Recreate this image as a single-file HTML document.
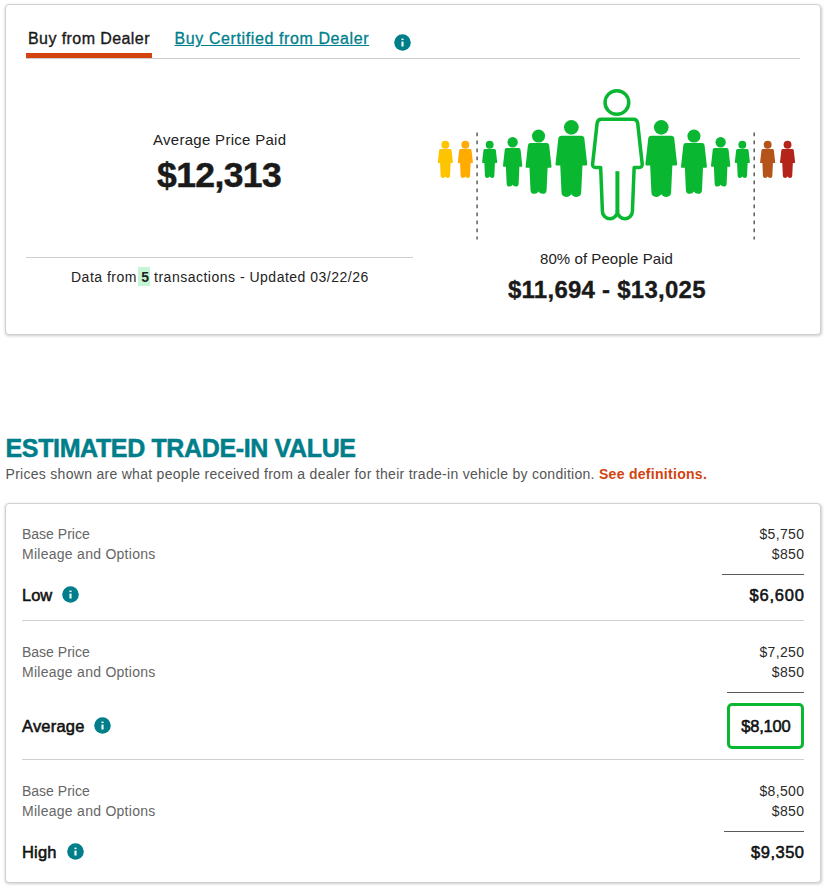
<!DOCTYPE html>
<html lang="en">
<head>
<meta charset="utf-8">
<title>Price Advisor</title>
<style>
*{box-sizing:border-box;margin:0;padding:0}
html,body{width:828px;height:889px;background:#fff;overflow:hidden}
body{position:relative;font-family:"Liberation Sans",sans-serif;color:#1a1a1a}
.card{position:absolute;left:5px;width:816px;border:1px solid #d0d0d0;border-radius:4px;background:#fff;box-shadow:.6px 1px 3px rgba(0,0,0,.2)}
.t{position:absolute;white-space:nowrap;line-height:1}
.hl{position:absolute;height:1px;background:#cfcfcf}
.rule{position:absolute;height:1px;background:#5a5a5a}
.lab{font-size:14px;color:#666;left:22px}
.val{font-size:14px;color:#2a2a2a;right:23.7px;letter-spacing:.35px}
.tot{font-size:16.5px;color:#111;right:24px;-webkit-text-stroke:.55px #111}
.name{font-size:16.5px;color:#111;left:22px;-webkit-text-stroke:.55px #111}
.info{position:absolute;width:17px;height:17px}
</style>
</head>
<body>

<!-- ===== top card ===== -->
<div class="card" id="card1" style="top:4px;height:331px"></div>

<div class="t" id="tab1" style="left:28px;top:31.3px;font-size:16px;color:#1a1a1a;letter-spacing:.42px;-webkit-text-stroke:.35px #1a1a1a">Buy from Dealer</div>
<div class="hl" style="left:26px;top:58px;width:774px"></div>
<div style="position:absolute;left:26px;top:53px;width:126px;height:5px;background:#d2430f"></div>
<div class="t" id="tab2" style="left:174.5px;top:31.3px;font-size:16px;color:#00808c;text-decoration:underline;letter-spacing:.6px;-webkit-text-stroke:.3px #00808c">Buy Certified from Dealer</div>
<svg class="info" style="left:393.5px;top:33.5px" viewBox="0 0 17 17"><circle cx="8.5" cy="8.5" r="8.3" fill="#007f8a"/><rect x="7.45" y="4.6" width="2.1" height="1.5" fill="#fff"/><rect x="7.45" y="7.6" width="2.1" height="4.9" fill="#fff"/></svg>

<div class="t" id="avgl" style="left:153px;top:132px;font-size:15px;color:#222;letter-spacing:.29px">Average Price Paid</div>
<div class="t" id="avgp" style="left:157px;top:157.6px;font-size:35.5px;font-weight:bold;color:#1a1a1a;letter-spacing:-.6px;-webkit-text-stroke:.5px #1a1a1a">$12,313</div>

<div class="hl" style="left:26px;top:257px;width:387px"></div>
<div style="position:absolute;left:138px;top:267px;width:12px;height:19px;background:#c5f5d4"></div>
<div class="t" id="data" style="left:71px;top:270.1px;font-size:14px;color:#222;letter-spacing:.5px">Data from <b>5</b> transactions - Updated 03/22/26</div>

<div class="t" id="pct" style="left:540px;top:251.3px;font-size:15px;color:#222;letter-spacing:.07px">80% of People Paid</div>
<div class="t" id="rng" style="left:508px;top:277.9px;font-size:24px;font-weight:bold;color:#1a1a1a;letter-spacing:.25px;-webkit-text-stroke:.35px #1a1a1a">$11,694 - $13,025</div>

<!-- people pictogram -->
<svg id="people" style="position:absolute;left:0;top:0" width="828" height="260" viewBox="0 0 828 260">
<!--PEOPLE-->
<g fill="#ffc400"><circle cx="445.35" cy="144.75" r="3.95"/><path d="M440.67,149.00 L450.03,149.00 Q451.39,149.00 451.54,150.33 L452.90,162.34 Q452.98,163.08 452.30,163.08 L450.63,163.08 L450.03,175.97 Q449.88,177.90 447.77,177.90 Q445.95,177.90 445.35,176.57 Q444.75,177.90 442.93,177.90 Q440.82,177.90 440.67,175.97 L440.06,163.08 L438.40,163.08 Q437.72,163.08 437.80,162.34 L439.16,150.33 Q439.31,149.00 440.67,149.00 Z"/></g>
<g fill="#ffab00"><circle cx="465.35" cy="144.75" r="3.95"/><path d="M460.67,149.00 L470.03,149.00 Q471.39,149.00 471.54,150.33 L472.90,162.34 Q472.98,163.08 472.30,163.08 L470.63,163.08 L470.03,175.97 Q469.88,177.90 467.77,177.90 Q465.95,177.90 465.35,176.57 Q464.75,177.90 462.93,177.90 Q460.82,177.90 460.67,175.97 L460.06,163.08 L458.40,163.08 Q457.72,163.08 457.80,162.34 L459.16,150.33 Q459.31,149.00 460.67,149.00 Z"/></g>
<g fill="#09b830"><circle cx="489.65" cy="144.75" r="3.95"/><path d="M484.97,149.00 L494.33,149.00 Q495.69,149.00 495.84,150.33 L497.20,162.34 Q497.28,163.08 496.60,163.08 L494.94,163.08 L494.33,175.97 Q494.18,177.90 492.07,177.90 Q490.25,177.90 489.65,176.57 Q489.05,177.90 487.23,177.90 Q485.12,177.90 484.97,175.97 L484.37,163.08 L482.70,163.08 Q482.02,163.08 482.10,162.34 L483.46,150.33 Q483.61,149.00 484.97,149.00 Z"/></g>
<g fill="#09b830"><circle cx="512.65" cy="142.25" r="5.15"/><path d="M506.67,148.00 L518.63,148.00 Q520.37,148.00 520.56,149.78 L522.30,165.82 Q522.40,166.81 521.53,166.81 L519.40,166.81 L518.63,184.03 Q518.44,186.60 515.74,186.60 Q513.42,186.60 512.65,184.82 Q511.88,186.60 509.56,186.60 Q506.86,186.60 506.67,184.03 L505.89,166.81 L503.77,166.81 Q502.90,166.81 503.00,165.82 L504.74,149.78 Q504.93,148.00 506.67,148.00 Z"/></g>
<g fill="#09b830"><circle cx="538.55" cy="136.05" r="6.55"/><path d="M530.52,143.00 L546.58,143.00 Q548.91,143.00 549.17,145.34 L551.50,166.45 Q551.63,167.75 550.46,167.75 L547.62,167.75 L546.58,190.41 Q546.32,193.80 542.69,193.80 Q539.59,193.80 538.55,191.46 Q537.51,193.80 534.41,193.80 Q530.78,193.80 530.52,190.41 L529.49,167.75 L526.64,167.75 Q525.47,167.75 525.60,166.45 L527.93,145.34 Q528.19,143.00 530.52,143.00 Z"/></g>
<g fill="#09b830"><circle cx="571.35" cy="127.35" r="7.35"/><path d="M561.52,135.70 L581.18,135.70 Q584.03,135.70 584.35,138.52 L587.20,163.95 Q587.36,165.52 585.93,165.52 L582.45,165.52 L581.18,192.82 Q580.86,196.90 576.42,196.90 Q572.62,196.90 571.35,194.08 Q570.08,196.90 566.28,196.90 Q561.84,196.90 561.52,192.82 L560.25,165.52 L556.77,165.52 Q555.34,165.52 555.50,163.95 L558.35,138.52 Q558.67,135.70 561.52,135.70 Z"/></g>
<g fill="#09b830"><circle cx="661.25" cy="127.35" r="7.35"/><path d="M651.42,135.70 L671.08,135.70 Q673.93,135.70 674.25,138.52 L677.10,163.95 Q677.26,165.52 675.83,165.52 L672.35,165.52 L671.08,192.82 Q670.76,196.90 666.32,196.90 Q662.52,196.90 661.25,194.08 Q659.98,196.90 656.18,196.90 Q651.74,196.90 651.42,192.82 L650.15,165.52 L646.67,165.52 Q645.24,165.52 645.40,163.95 L648.25,138.52 Q648.57,135.70 651.42,135.70 Z"/></g>
<g fill="#09b830"><circle cx="693.95" cy="136.05" r="6.55"/><path d="M685.92,143.00 L701.98,143.00 Q704.31,143.00 704.57,145.34 L706.90,166.45 Q707.03,167.75 705.86,167.75 L703.01,167.75 L701.98,190.41 Q701.72,193.80 698.09,193.80 Q694.99,193.80 693.95,191.46 Q692.91,193.80 689.81,193.80 Q686.18,193.80 685.92,190.41 L684.88,167.75 L682.04,167.75 Q680.87,167.75 681.00,166.45 L683.33,145.34 Q683.59,143.00 685.92,143.00 Z"/></g>
<g fill="#09b830"><circle cx="720.65" cy="142.25" r="5.15"/><path d="M714.67,148.00 L726.63,148.00 Q728.37,148.00 728.56,149.78 L730.30,165.82 Q730.40,166.81 729.53,166.81 L727.40,166.81 L726.63,184.03 Q726.44,186.60 723.74,186.60 Q721.42,186.60 720.65,184.82 Q719.88,186.60 717.56,186.60 Q714.86,186.60 714.67,184.03 L713.89,166.81 L711.77,166.81 Q710.90,166.81 711.00,165.82 L712.74,149.78 Q712.93,148.00 714.67,148.00 Z"/></g>
<g fill="#09b830"><circle cx="742.35" cy="144.75" r="3.95"/><path d="M737.67,149.00 L747.03,149.00 Q748.39,149.00 748.54,150.33 L749.90,162.34 Q749.98,163.08 749.30,163.08 L747.63,163.08 L747.03,175.97 Q746.88,177.90 744.77,177.90 Q742.95,177.90 742.35,176.57 Q741.75,177.90 739.93,177.90 Q737.82,177.90 737.67,175.97 L737.06,163.08 L735.40,163.08 Q734.72,163.08 734.80,162.34 L736.16,150.33 Q736.31,149.00 737.67,149.00 Z"/></g>
<g fill="#b5541a"><circle cx="767.65" cy="144.75" r="3.95"/><path d="M762.97,149.00 L772.33,149.00 Q773.69,149.00 773.84,150.33 L775.20,162.34 Q775.28,163.08 774.60,163.08 L772.94,163.08 L772.33,175.97 Q772.18,177.90 770.07,177.90 Q768.25,177.90 767.65,176.57 Q767.05,177.90 765.23,177.90 Q763.12,177.90 762.97,175.97 L762.37,163.08 L760.70,163.08 Q760.02,163.08 760.10,162.34 L761.46,150.33 Q761.61,149.00 762.97,149.00 Z"/></g>
<g fill="#b3251b"><circle cx="787.55" cy="144.75" r="3.95"/><path d="M782.87,149.00 L792.23,149.00 Q793.59,149.00 793.74,150.33 L795.10,162.34 Q795.18,163.08 794.50,163.08 L792.84,163.08 L792.23,175.97 Q792.08,177.90 789.97,177.90 Q788.15,177.90 787.55,176.57 Q786.95,177.90 785.13,177.90 Q783.02,177.90 782.87,175.97 L782.26,163.08 L780.60,163.08 Q779.92,163.08 780.00,162.34 L781.36,150.33 Q781.51,149.00 782.87,149.00 Z"/></g>
<!--/PEOPLE-->
<line x1="477.1" y1="132.4" x2="477.1" y2="239.5" stroke="#666" stroke-width="1.6" stroke-dasharray="3.8 4.2"/>
<line x1="754.2" y1="132.4" x2="754.2" y2="239.5" stroke="#666" stroke-width="1.6" stroke-dasharray="3.8 4.2"/>
<g fill="none" stroke="#09b830" stroke-width="3.5" stroke-linejoin="round">
<circle cx="616.9" cy="102.5" r="11.85"/>
<path d="M601.3,119.15 H633.5 Q637.2,119.15 637.7,123.3 L642.2,164 Q642.5,167.45 639,167.45 H634.15 L632.4,211.15 A7.5,7.5 0 0 1 617.4,211.15 A7.5,7.5 0 0 1 602.4,211.15 L600.65,167.45 H595.8 Q592.3,167.45 592.6,164 L597.1,123.3 Q597.6,119.15 601.3,119.15 Z"/>
<path d="M617.4,171.2 V212" stroke-width="4"/>
</g>
</svg>

<!-- ===== heading ===== -->
<div class="t" id="h1" style="left:5.5px;top:436px;font-size:25px;font-weight:bold;color:#007e8a;letter-spacing:-.36px;-webkit-text-stroke:.5px #007e8a">ESTIMATED TRADE-IN VALUE</div>
<div class="t" id="sub" style="left:5.5px;top:466.7px;font-size:14px;color:#555;letter-spacing:.29px">Prices shown are what people received from a dealer for their trade-in vehicle by condition. <b style="color:#d2430f">See definitions.</b></div>

<!-- ===== trade-in card ===== -->
<div class="card" id="card2" style="top:503px;height:380px"></div>

<!-- Low -->
<div class="t lab" id="l1a" style="top:527.1px">Base Price</div>
<div class="t lab" id="l1b" style="letter-spacing:.27px;top:546.7px">Mileage and Options</div>
<div class="t val" id="v1a" style="top:527.1px">$5,750</div>
<div class="t val" id="v1b" style="top:546.7px">$850</div>
<div class="rule" style="left:722px;top:574px;width:82px"></div>
<div class="t name" id="n1" style="top:586.8px">Low</div>
<svg class="info" style="left:62.4px;top:585.6px" viewBox="0 0 17 17"><circle cx="8.5" cy="8.5" r="8.3" fill="#007f8a"/><rect x="7.45" y="4.6" width="2.1" height="1.5" fill="#fff"/><rect x="7.45" y="7.6" width="2.1" height="4.9" fill="#fff"/></svg>
<div class="t tot" id="t1" style="top:586.8px;letter-spacing:.8px;right:23.2px">$6,600</div>
<div class="hl" style="left:22px;top:620px;width:782px"></div>

<!-- Average -->
<div class="t lab" id="l2a" style="top:645.1px">Base Price</div>
<div class="t lab" id="l2b" style="letter-spacing:.27px;top:664.7px">Mileage and Options</div>
<div class="t val" id="v2a" style="top:645.1px">$7,250</div>
<div class="t val" id="v2b" style="top:664.7px">$850</div>
<div class="rule" style="left:727px;top:692px;width:77px"></div>
<div class="t name" id="n2" style="top:718.4px;letter-spacing:.2px">Average</div>
<svg class="info" style="left:94.3px;top:716.7px" viewBox="0 0 17 17"><circle cx="8.5" cy="8.5" r="8.3" fill="#007f8a"/><rect x="7.45" y="4.6" width="2.1" height="1.5" fill="#fff"/><rect x="7.45" y="7.6" width="2.1" height="4.9" fill="#fff"/></svg>
<div style="position:absolute;left:727px;top:703px;width:77px;height:46px;border:3px solid #09b830;border-radius:5px"></div>
<div class="t tot" id="t2" style="top:718.4px;right:37.5px;letter-spacing:-.2px">$8,100</div>
<div class="hl" style="left:22px;top:759px;width:782px"></div>

<!-- High -->
<div class="t lab" id="l3a" style="top:783.6px">Base Price</div>
<div class="t lab" id="l3b" style="letter-spacing:.27px;top:804.2px">Mileage and Options</div>
<div class="t val" id="v3a" style="top:783.6px">$8,500</div>
<div class="t val" id="v3b" style="top:804.2px">$850</div>
<div class="rule" style="left:724px;top:831px;width:80px"></div>
<div class="t name" id="n3" style="top:844.1px;letter-spacing:.2px">High</div>
<svg class="info" style="left:67.4px;top:842.8px" viewBox="0 0 17 17"><circle cx="8.5" cy="8.5" r="8.3" fill="#007f8a"/><rect x="7.45" y="4.6" width="2.1" height="1.5" fill="#fff"/><rect x="7.45" y="7.6" width="2.1" height="4.9" fill="#fff"/></svg>
<div class="t tot" id="t3" style="top:844.1px;letter-spacing:.5px;right:23.5px">$9,350</div>

</body>
</html>
